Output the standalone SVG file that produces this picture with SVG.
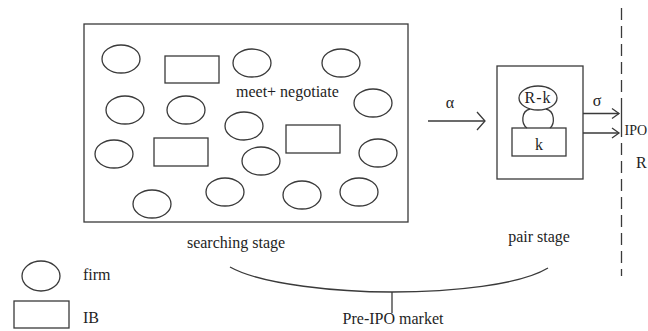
<svg xmlns="http://www.w3.org/2000/svg" width="648" height="331" viewBox="0 0 648 331" font-family="'Liberation Serif', 'DejaVu Serif', serif">
<defs>
<style>
.s{fill:none;stroke:#3a3a3a;stroke-width:1.3}
.t{font-family:'Liberation Serif','DejaVu Serif',serif;font-size:16px;fill:#1e1e1e}
.m{text-anchor:middle}
</style>
<marker id="ah" markerWidth="12" markerHeight="20" refX="9" refY="10" orient="auto" markerUnits="userSpaceOnUse">
<path d="M1,1 L9,10 L1,19" fill="none" stroke="#3a3a3a" stroke-width="1.3"/>
</marker>
<marker id="ahs" markerWidth="10" markerHeight="14" refX="8" refY="7" orient="auto" markerUnits="userSpaceOnUse">
<path d="M1,2 L8,7 L1,12" fill="none" stroke="#3a3a3a" stroke-width="1.3"/>
</marker>
</defs>
<rect width="648" height="331" fill="#ffffff"/>

<g id="searching-stage">
<rect class="s" x="84" y="24" width="324" height="198"/>
<ellipse class="s" cx="121" cy="59" rx="19" ry="14"/>
<rect class="s" x="165" y="56" width="54" height="27"/>
<ellipse class="s" cx="252" cy="63" rx="19" ry="14"/>
<ellipse class="s" cx="341" cy="63" rx="19" ry="14"/>
<ellipse class="s" cx="125" cy="110" rx="19" ry="14"/>
<ellipse class="s" cx="186" cy="110" rx="19" ry="14"/>
<ellipse class="s" cx="244" cy="126" rx="19" ry="14"/>
<ellipse class="s" cx="373" cy="103" rx="19" ry="14"/>
<rect class="s" x="154" y="138" width="54" height="28"/>
<rect class="s" x="286" y="125" width="54" height="28"/>
<ellipse class="s" cx="114" cy="154" rx="19" ry="14"/>
<ellipse class="s" cx="261" cy="161" rx="19" ry="14"/>
<ellipse class="s" cx="378" cy="153" rx="19" ry="14"/>
<ellipse class="s" cx="152" cy="204" rx="19" ry="14"/>
<ellipse class="s" cx="225" cy="192" rx="19" ry="14"/>
<ellipse class="s" cx="302" cy="195" rx="19" ry="14"/>
<ellipse class="s" cx="359" cy="192" rx="19" ry="14"/>
<text class="t" font-family="Liberation Serif, serif" x="236" y="97">meet+ negotiate</text>
<text class="t m" font-family="Liberation Serif, serif" x="236" y="248">searching stage</text>
</g>

<g id="pair-stage">
<rect class="s" x="497" y="66" width="86" height="113"/>
<ellipse class="s" cx="538" cy="98" rx="19" ry="12"/>
<path class="s" d="M530,109 C521,111 521,124 527,128"/>
<path class="s" d="M546,109 C555,111 555,124 550,128"/>
<rect class="s" x="512" y="128" width="54" height="28"/>
<text class="t m" font-family="Liberation Serif, serif" x="538" y="103" letter-spacing="1">R-k</text>
<text class="t m" font-family="Liberation Serif, serif" x="539" y="150">k</text>
<text class="t m" font-family="Liberation Serif, serif" x="539" y="242">pair stage</text>
</g>

<g id="connectors">
<line class="s" x1="428" y1="121" x2="485" y2="121" marker-end="url(#ah)"/>
<text class="t m" font-family="Liberation Serif, serif" x="450" y="108">α</text>
<line class="s" x1="583" y1="113.5" x2="619" y2="113.5" marker-end="url(#ahs)"/>
<line class="s" x1="583" y1="133" x2="619" y2="133" marker-end="url(#ahs)"/>
<text class="t m" font-family="Liberation Serif, serif" x="597" y="106">σ</text>
<path class="s" d="M230,267 C262,285 340,292 392,292 C452,292 520,285 548,268"/>
<line class="s" x1="392" y1="292" x2="392" y2="313"/>
<text class="t m" font-family="Liberation Serif, serif" x="393" y="324">Pre-IPO market</text>
</g>

<g id="boundary">
<line class="s" x1="621.5" y1="8" x2="621.5" y2="105" stroke-dasharray="12 6"/>
<line class="s" x1="621.5" y1="105" x2="621.5" y2="137"/>
<line class="s" x1="621.5" y1="143" x2="621.5" y2="276" stroke-dasharray="12 6"/>
<text class="t" font-family="Liberation Serif, serif" font-size="14" style="font-size:14px" x="624.5" y="135">IPO</text>
<text class="t" font-family="Liberation Serif, serif" x="636" y="168">R</text>
</g>

<g id="legend">
<ellipse class="s" cx="41" cy="276" rx="19" ry="15"/>
<text class="t" font-family="Liberation Serif, serif" x="83" y="280">firm</text>
<rect class="s" x="14" y="301" width="55" height="27"/>
<text class="t" font-family="Liberation Serif, serif" x="83" y="323">IB</text>
</g>
</svg>
